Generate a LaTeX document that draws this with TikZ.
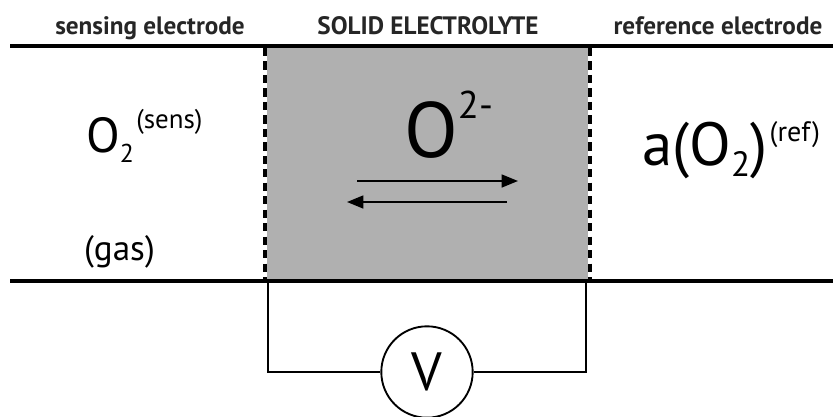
\documentclass[tikz,border=0pt]{standalone}
\usepackage{fontspec}
\setmainfont{PT Sans}
\usetikzlibrary{arrows.meta}
\begin{document}
\begin{tikzpicture}[x=0.03cm,y=-0.03cm,
  hdr/.style={font=\bfseries\fontsize{21.5}{23}\selectfont, inner sep=0pt, anchor=base, text=black!85},
  txt/.style={inner sep=0pt, anchor=base west},
  mainline/.style={line width=2.6pt},
  wire/.style={line width=1.6pt},
  dashline/.style={line width=2.6pt, dash pattern=on 7pt off 4.5pt},
  flow/.style={line width=1.7pt, -{Triangle[length=14pt,width=11pt]}}]
\useasboundingbox (0,0) rectangle (833,417);
% electrolyte
\fill[fill={rgb,255:red,176;green,176;blue,176}] (267,46) rectangle (588,281);
\draw[dashline] (265,48) -- (265,281);
\draw[dashline] (590,48) -- (590,281);
\draw[mainline] (10,46) -- (833,46);
\draw[mainline] (10,281) -- (833,281);
% headers
\node[hdr] (hs) at (150,34) {sensing electrode};
\node[hdr] (he) at (428,34) {SOLID ELECTROLYTE};
\node[hdr] (hr) at (718,34) {reference electrode};
% left side
\node[txt, font=\fontsize{42}{46}\selectfont] (o2s) at (86,152) {O\raisebox{-9pt}{\fontsize{22}{24}\selectfont 2}\kern2pt\raisebox{20pt}{\fontsize{23}{25}\selectfont (sens)}};
\node[txt, font=\fontsize{30}{32}\selectfont] (gas) at (84,260) {(gas)};
% center
\node[txt, font=\fontsize{67}{70}\selectfont] (oion) at (404,157) {O\raisebox{33pt}{\fontsize{33}{35}\selectfont 2-}};
\coordinate (r1) at (357,181);
\coordinate (r2) at (518,181);
\coordinate (l1) at (507,202);
\coordinate (l2) at (347,202);
\draw[flow] (r1) -- (r2);
\draw[flow] (l1) -- (l2);
% right side
\node[txt, font=\fontsize{52}{56}\selectfont] (ao2) at (642,165) {a(O\raisebox{-10pt}{\fontsize{30}{32}\selectfont 2})\kern2pt\raisebox{20pt}{\fontsize{24}{26}\selectfont (ref)}};
% circuit
\node[draw, circle, line width=1.6pt, minimum size=78pt, inner sep=0pt, font=\fontsize{46}{48}\selectfont] (V) at (427,372) {V};
\coordinate (wl) at (268,281);
\coordinate (wr) at (586,281);
\draw[wire] (wl) |- (V.west);
\draw[wire] (wr) |- (V.east);
\end{tikzpicture}
\end{document}
